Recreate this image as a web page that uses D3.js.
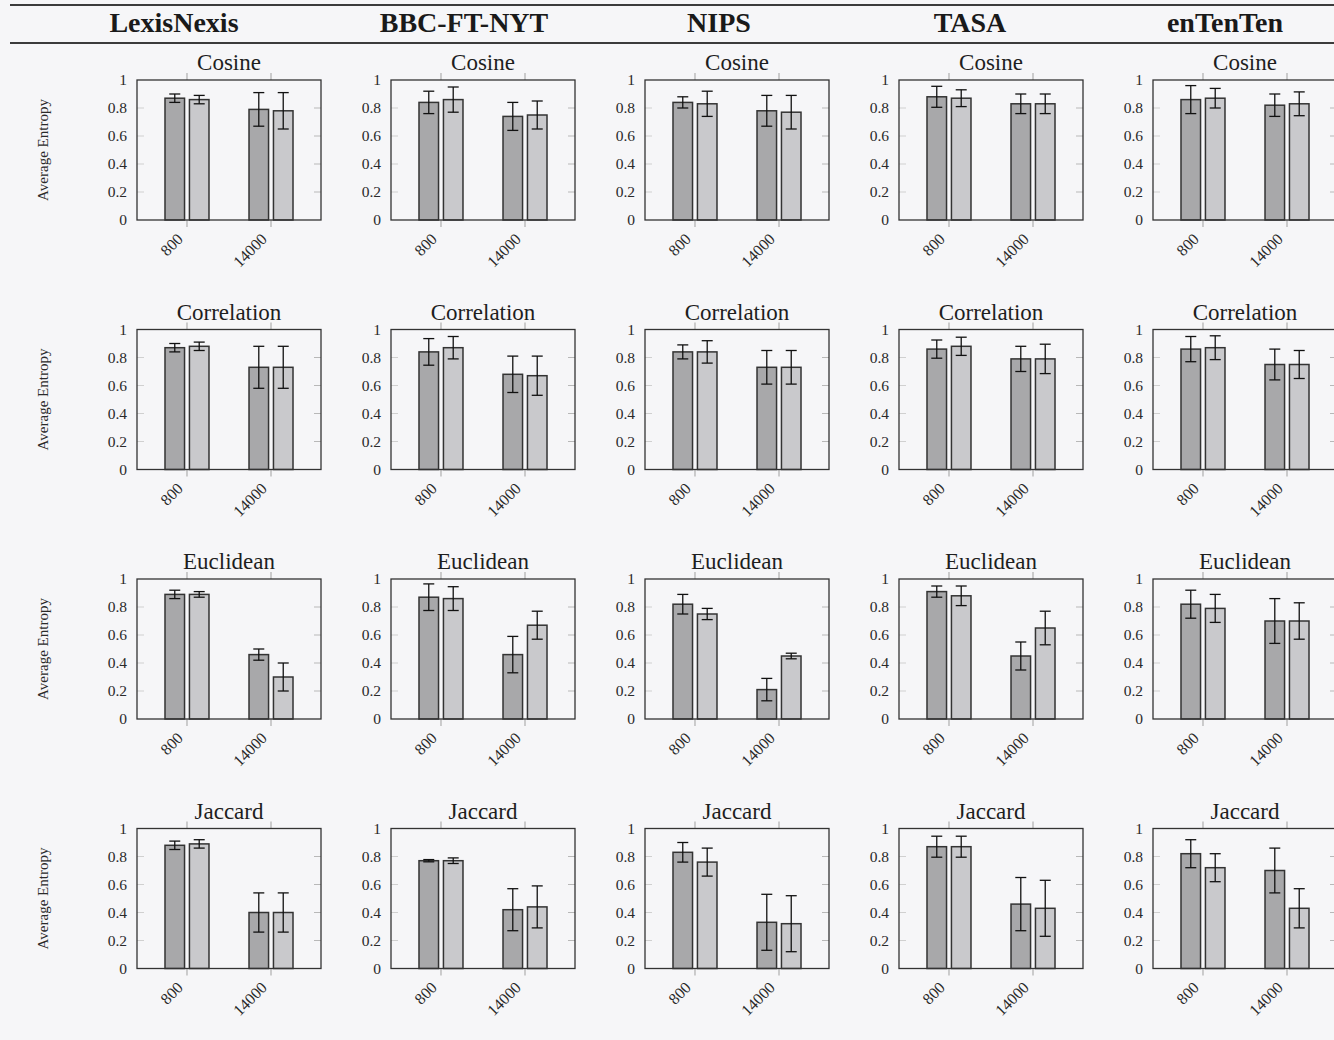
<!DOCTYPE html>
<html>
<head>
<meta charset="utf-8">
<script src="https://cdn.jsdelivr.net/npm/d3@7"></script>
<style>
  html, body { margin: 0; padding: 0; background: #f6f6f8; overflow: hidden; }
  svg { display: block; }
  text { font-family: "Liberation Serif", "DejaVu Serif", serif; fill: #222; }
</style>
</head>
<body>
<svg id="chart" width="1334" height="1040"></svg>
<script>
// ---------------- DATA ----------------
const datasets = ["LexisNexis", "BBC-FT-NYT", "NIPS", "TASA", "enTenTen"];
const measures = ["Cosine", "Correlation", "Euclidean", "Jaccard"];
const sizes = ["800", "14000"];
const seriesNames = ["A", "B"];
const yTickValues = [0, 0.2, 0.4, 0.6, 0.8, 1];
const yTickLabels = ["0", "0.2", "0.4", "0.6", "0.8", "1"];
const yAxisTitle = "Average Entropy";

// each row: [800 series A, 800 series B, 14000 series A, 14000 series B], one row per dataset
const cosineMean = [[0.87,0.86,0.79,0.78],[0.84,0.86,0.74,0.75],[0.84,0.83,0.78,0.77],[0.88,0.87,0.83,0.83],[0.86,0.87,0.82,0.83]];
const cosineErr  = [[0.03,0.03,0.12,0.13],[0.08,0.09,0.10,0.10],[0.04,0.09,0.11,0.12],[0.075,0.06,0.07,0.07],[0.10,0.07,0.08,0.085]];
const correlationMean = [[0.87,0.88,0.73,0.73],[0.84,0.87,0.68,0.67],[0.84,0.84,0.73,0.73],[0.86,0.88,0.79,0.79],[0.86,0.87,0.75,0.75]];
const correlationErr  = [[0.03,0.03,0.15,0.15],[0.095,0.08,0.13,0.14],[0.05,0.08,0.12,0.12],[0.065,0.065,0.09,0.105],[0.09,0.085,0.11,0.10]];
const euclideanMean = [[0.89,0.89,0.46,0.30],[0.87,0.86,0.46,0.67],[0.82,0.75,0.21,0.45],[0.91,0.88,0.45,0.65],[0.82,0.79,0.70,0.70]];
const euclideanErr  = [[0.03,0.02,0.04,0.10],[0.095,0.085,0.13,0.10],[0.07,0.04,0.08,0.02],[0.04,0.07,0.10,0.12],[0.10,0.10,0.16,0.13]];
const jaccardMean = [[0.88,0.89,0.40,0.40],[0.77,0.77,0.42,0.44],[0.83,0.76,0.33,0.32],[0.87,0.87,0.46,0.43],[0.82,0.72,0.70,0.43]];
const jaccardErr  = [[0.03,0.03,0.14,0.14],[0.008,0.02,0.15,0.15],[0.07,0.10,0.20,0.20],[0.075,0.075,0.19,0.20],[0.10,0.10,0.16,0.14]];

const meanTables = [cosineMean, correlationMean, euclideanMean, jaccardMean];
const errTables = [cosineErr, correlationErr, euclideanErr, jaccardErr];

// ---------------- LAYOUT ----------------
const W = 1334, H = 1040;
const boxLeft0 = 137, colStep = 254, boxW = 184;
const boxTop0 = 80, rowStep = 249.5, boxH = 140;
const headerX = [174, 464, 719, 970, 1225];
const barColors = ["#a8a8aa", "#c9c9cc"];

const svg = d3.select("#chart");

// header rules
svg.append("line").attr("x1", 10).attr("x2", W).attr("y1", 5).attr("y2", 5)
  .attr("stroke", "#3c3c3c").attr("stroke-width", 1.8);
svg.append("line").attr("x1", 10).attr("x2", W).attr("y1", 43).attr("y2", 43)
  .attr("stroke", "#3c3c3c").attr("stroke-width", 1.8);

svg.selectAll("text.header").data(datasets).join("text")
  .attr("class", "header")
  .attr("x", (d, i) => headerX[i]).attr("y", 32)
  .attr("text-anchor", "middle")
  .attr("font-size", 28).attr("font-weight", "bold")
  .style("fill", "#1a1a1a")
  .text(d => d);

const y = d3.scaleLinear().domain([0, 1]).range([boxH, 0]);
const x = d3.scalePoint().domain(sizes).range([0, boxW]).padding(0.595);
const xs = d3.scaleBand().domain(seriesNames).range([-22, 22]).paddingInner(0.2);

measures.forEach((m, r) => {
  datasets.forEach((ds, c) => {
    const g = svg.append("g")
      .attr("transform", `translate(${boxLeft0 + c * colStep},${boxTop0 + r * rowStep})`);

    // title
    g.append("text").attr("x", boxW / 2).attr("y", -10)
      .attr("text-anchor", "middle").attr("font-size", 23)
      .style("fill", "#1e1e1e")
      .text(m);

    // y tick marks (inside, left & right) and labels
    yTickValues.forEach((v, k) => {
      if (v > 0 && v < 1) {
        g.append("line").attr("x1", boxW - 7).attr("x2", boxW)
          .attr("y1", y(v)).attr("y2", y(v)).attr("stroke", "#b8b8b8").attr("stroke-width", 1);
        g.append("line").attr("x1", 0).attr("x2", 7)
          .attr("y1", y(v)).attr("y2", y(v)).attr("stroke", "#d0d0d0").attr("stroke-width", 1);
      }
      g.append("text").attr("x", -10).attr("y", y(v) + 5)
        .attr("text-anchor", "end").attr("font-size", 15.5)
        .style("fill", "#2a2a2a")
        .text(yTickLabels[k]);
    });

    // x ticks (outside top & bottom)
    sizes.forEach(s => {
      g.append("line").attr("x1", x(s)).attr("x2", x(s)).attr("y1", boxH).attr("y2", boxH + 7)
        .attr("stroke", "#a0a0a0").attr("stroke-width", 1);
      g.append("line").attr("x1", x(s)).attr("x2", x(s)).attr("y1", 0).attr("y2", -7)
        .attr("stroke", "#a0a0a0").attr("stroke-width", 1);
      g.append("text")
        .attr("transform", `translate(${x(s) - 3},${boxH + 20}) rotate(-45)`)
        .attr("text-anchor", "end").attr("font-size", 16)
        .style("fill", "#2a2a2a")
        .text(s);
    });

    // bars
    const means = meanTables[r][c];
    const errs = errTables[r][c];
    const bars = [];
    sizes.forEach((s, si) => {
      seriesNames.forEach((sn, k) => {
        bars.push({ s, sn, k, v: means[si * 2 + k], e: errs[si * 2 + k] });
      });
    });

    g.selectAll("rect.bar").data(bars).join("rect")
      .attr("class", "bar")
      .attr("x", d => x(d.s) + xs(d.sn))
      .attr("width", xs.bandwidth())
      .attr("y", d => y(d.v))
      .attr("height", d => y(0) - y(d.v))
      .attr("fill", d => barColors[d.k])
      .attr("stroke", "#333")
      .attr("stroke-width", 1.5);

    // error bars
    const eg = g.selectAll("g.err").data(bars).join("g").attr("class", "err");
    eg.append("line")
      .attr("x1", d => x(d.s) + xs(d.sn) + xs.bandwidth() / 2)
      .attr("x2", d => x(d.s) + xs(d.sn) + xs.bandwidth() / 2)
      .attr("y1", d => y(d.v + d.e)).attr("y2", d => y(d.v - d.e))
      .attr("stroke", "#111").attr("stroke-width", 1.3);
    [1, -1].forEach(sign => {
      eg.append("line")
        .attr("x1", d => x(d.s) + xs(d.sn) + xs.bandwidth() / 2 - 5.5)
        .attr("x2", d => x(d.s) + xs(d.sn) + xs.bandwidth() / 2 + 5.5)
        .attr("y1", d => y(d.v + sign * d.e)).attr("y2", d => y(d.v + sign * d.e))
        .attr("stroke", "#111").attr("stroke-width", 1.3);
    });

    // frame
    g.append("rect").attr("x", 0).attr("y", 0).attr("width", boxW).attr("height", boxH)
      .attr("fill", "none").attr("stroke", "#333").attr("stroke-width", 1.3);

    // y axis title in first column
    if (c === 0) {
      g.append("text")
        .attr("transform", `translate(${43 - boxLeft0 + 5},${boxH / 2}) rotate(-90)`)
        .attr("text-anchor", "middle").attr("font-size", 15)
        .style("fill", "#2a2a2a")
        .text(yAxisTitle);
    }
  });
});
</script>
</body>
</html>
